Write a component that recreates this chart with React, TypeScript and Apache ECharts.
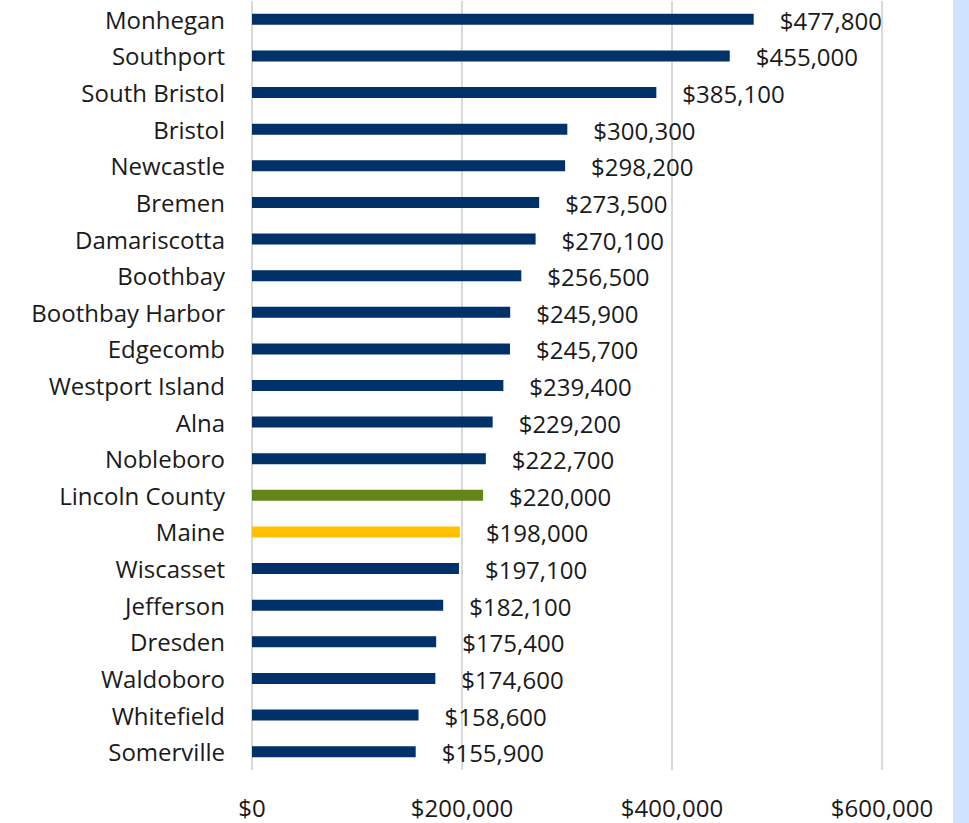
import React, { useEffect, useRef } from "react";
import * as echarts from "echarts";

const categories = [
  "Monhegan", "Southport", "South Bristol", "Bristol", "Newcastle", "Bremen",
  "Damariscotta", "Boothbay", "Boothbay Harbor", "Edgecomb", "Westport Island",
  "Alna", "Nobleboro", "Lincoln County", "Maine", "Wiscasset", "Jefferson",
  "Dresden", "Waldoboro", "Whitefield", "Somerville",
];
const values = [
  477800, 455000, 385100, 300300, 298200, 273500, 270100, 256500, 245900,
  245700, 239400, 229200, 222700, 220000, 198000, 197100, 182100, 175400,
  174600, 158600, 155900,
];
const highlight: Record<string, string> = {
  "Lincoln County": "#628718",
  Maine: "#FFC000",
};
const baseColor = "#003168";
const xTicks = { min: 0, max: 600000, interval: 200000 };

const fmt = (v: number) => "$" + v.toLocaleString("en-US");

export default function App() {
  const ref = useRef<HTMLDivElement>(null);
  useEffect(() => {
    if (!ref.current) return;
    const chart = echarts.init(ref.current, undefined, { renderer: "svg" });
    const font = "'Open Sans', 'Noto Sans', sans-serif";
    chart.setOption({
      animation: false,
      backgroundColor: "#ffffff",
      textStyle: { fontFamily: font },
      graphic: [
        {
          type: "rect",
          right: 0,
          top: 0,
          shape: { width: 16, height: 823 },
          style: { fill: "#CFE2FF" },
          z: 0,
        },
      ],
      grid: { left: 252, right: 87, top: 1, bottom: 53, containLabel: false },
      xAxis: {
        type: "value",
        min: xTicks.min,
        max: xTicks.max,
        interval: xTicks.interval,
        axisLine: { show: false },
        axisTick: { show: false },
        splitLine: { show: true, lineStyle: { color: "#D9D9D9", width: 2 } },
        axisLabel: {
          formatter: (v: number) => fmt(v),
          color: "#1a1a1a",
          fontSize: 24,
          fontFamily: font,
          margin: 25,
        },
      },
      yAxis: {
        type: "category",
        inverse: true,
        data: categories,
        axisLine: { show: false },
        axisTick: { show: false },
        axisLabel: {
          color: "#1a1a1a",
          fontSize: 24,
          fontFamily: font,
          margin: 27,
        },
      },
      series: [
        {
          type: "bar",
          barWidth: 11,
          data: values.map((v, i) => ({
            value: v,
            itemStyle: { color: highlight[categories[i]] || baseColor },
          })),
          label: {
            show: true,
            position: "right",
            distance: 26,
            formatter: (p: any) => fmt(p.value),
            color: "#1a1a1a",
            fontSize: 24,
            fontFamily: font,
            offset: [0, 1],
          },
        },
      ],
    });
    return () => chart.dispose();
  }, []);
  return (
    <div
      ref={ref}
      style={{ position: "fixed", left: 0, top: 0, width: 969, height: 823 }}
    />
  );
}
